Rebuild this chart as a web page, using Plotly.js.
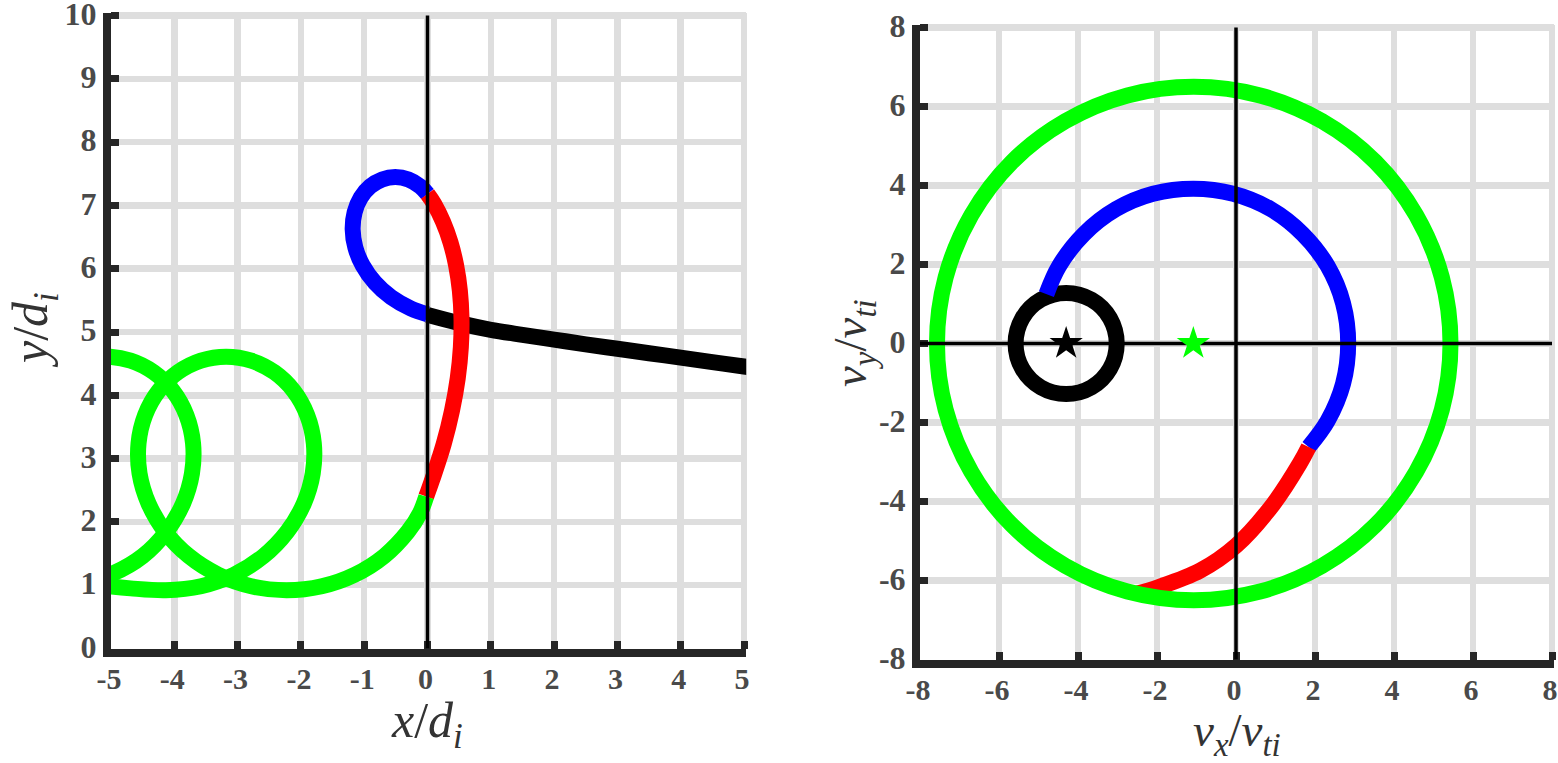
<!DOCTYPE html>
<html>
<head>
<meta charset="utf-8">
<script src="https://cdn.plot.ly/plotly-3.0.1.min.js"></script>
<style>html,body{margin:0;padding:0;background:#fff;}#chart{width:1558px;height:763px;}</style>
</head>
<body>
<div id="chart"></div>
<script>
// ---------- Left panel: position space (x/d_i, y/d_i) ----------
const posXTicks = [-5, -4, -3, -2, -1, 0, 1, 2, 3, 4, 5];
const posXTickLabels = ['-5', '-4', '-3', '-2', '-1', '0', '1', '2', '3', '4', '5'];
const posYTicks = [0, 1, 2, 3, 4, 5, 6, 7, 8, 9, 10];
const posYTickLabels = ['0', '1', '2', '3', '4', '5', '6', '7', '8', '9', '10'];

const posBlackX = [0, 0.5, 1, 1.5, 2, 2.5, 3, 3.5, 4, 4.5, 5, 5.3];
const posBlackY = [5.27, 5.14, 5.035, 4.955, 4.88, 4.805, 4.735, 4.665, 4.595, 4.525, 4.455, 4.415];

const posBlueX = [0.0, -0.263, -0.573, -0.830, -1.022, -1.140, -1.182, -1.151, -1.055, -0.905, -0.716, -0.509, -0.301, -0.113, 0.0];
const posBlueY = [5.28, 5.371, 5.548, 5.779, 6.047, 6.335, 6.623, 6.892, 7.122, 7.299, 7.410, 7.448, 7.410, 7.299, 7.18];

const posRedX = [0.0, 0.106, 0.246, 0.363, 0.452, 0.511, 0.537, 0.527, 0.478, 0.387, 0.255, 0.078, -0.02];
const posRedY = [7.18, 7.022, 6.739, 6.416, 6.053, 5.654, 5.222, 4.761, 4.271, 3.758, 3.226, 2.677, 2.40];

const posGreenX = [-0.02, -0.122, -0.311, -0.683, -1.145, -1.67, -2.227, -2.784, -3.308, -3.77, -4.143, -4.406, -4.549,
  -4.565, -4.461, -4.247, -3.944, -3.579, -3.181, -2.783, -2.417, -2.114, -1.901, -1.796, -1.813, -1.955,
  -2.219, -2.591, -3.053, -3.578, -4.135, -4.69, -5.0, -5.3, null,
  -5.49, -5.09, -4.69, -4.325, -4.022, -3.809, -3.704, -3.721, -3.863, -4.127, -4.50, -4.961, -5.486];
const posGreenY = [2.40, 2.134, 1.843, 1.46, 1.167, 0.983, 0.92, 0.983, 1.167, 1.46, 1.843, 2.288, 2.765,
  3.243, 3.688, 4.07, 4.363, 4.547, 4.61, 4.547, 4.363, 4.07, 3.688, 3.243, 2.765, 2.288,
  1.843, 1.46, 1.167, 0.983, 0.92, 0.95, 0.98, 1.02, null,
  4.547, 4.61, 4.547, 4.363, 4.07, 3.688, 3.243, 2.765, 2.288, 1.843, 1.46, 1.19, 1.03];

const posZeroX = [0, 0];
const posZeroY = [0, 10];

// ---------- Right panel: velocity space (v_x/v_ti, v_y/v_ti) ----------
const velTicks = [-8, -6, -4, -2, 0, 2, 4, 6, 8];
const velTickLabels = ['-8', '-6', '-4', '-2', '0', '2', '4', '6', '8'];

const velBlackX = [-5.58, -5.41, -4.94, -4.30, -3.66, -3.19, -3.02, -3.19, -3.66, -4.30, -4.94, -5.41, -5.58];
const velBlackY = [0, -0.64, -1.11, -1.28, -1.11, -0.64, 0, 0.64, 1.11, 1.28, 1.11, 0.64, 0];

const velBlueX = [1.84, 2.32, 2.71, 2.84, 2.71, 2.32, 1.69, 0.88, -0.07, -1.08, -2.10, -3.04, -3.85, -4.48, -4.80];
const velBlueY = [-2.62, -1.96, -1.02, 0, 1.02, 1.96, 2.77, 3.40, 3.79, 3.92, 3.79, 3.40, 2.77, 1.96, 1.25];

const velRedX = [1.84, 1.62, 0.94, 0, -0.91, -1.97, -2.50];
const velRedY = [-2.62, -3.03, -4.07, -5.12, -5.75, -6.17, -6.33];

const velGreenX = [-7.57, -7.35, -6.70, -5.67, -4.32, -2.75, -1.07, 0.61, 2.18, 3.53, 4.56, 5.21, 5.43,
  5.21, 4.56, 3.53, 2.18, 0.61, -1.07, -2.75, -4.32, -5.67, -6.70, -7.35, -7.57];
const velGreenY = [0, -1.68, -3.25, -4.60, -5.63, -6.28, -6.50, -6.28, -5.63, -4.60, -3.25, -1.68, 0,
  1.68, 3.25, 4.60, 5.63, 6.28, 6.50, 6.28, 5.63, 4.60, 3.25, 1.68, 0];

const velZeroVX = [0, 0];
const velZeroVY = [-8, 8];
const velZeroHX = [-8, 8];
const velZeroHY = [0, 0];

const starX = [-4.30, -1.08];
const starY = [0, 0];
const starColors = ['#000000', '#00ff00'];

// ---------- styling ----------
const W = 1558, H = 763;
const TRAJ_W = 16;
const GRID = '#dedede', SPINE = '#262626', TICKTXT = '#4a4a4a', TITLETXT = '#333333';

function curve(xs, ys, color, xa, ya) {
  return {type: 'scatter', mode: 'lines', x: xs, y: ys, xaxis: xa, yaxis: ya,
    line: {color: color, width: TRAJ_W, shape: 'spline', smoothing: 1},
    hoverinfo: 'skip', connectgaps: false};
}
function straight(xs, ys, xa, ya) {
  return {type: 'scatter', mode: 'lines', x: xs, y: ys, xaxis: xa, yaxis: ya,
    line: {color: '#000000', width: 3.5}, hoverinfo: 'skip'};
}

const traces = [
  curve(posBlackX, posBlackY, '#000000', 'x', 'y'),
  curve(posBlueX, posBlueY, '#0000ff', 'x', 'y'),
  curve(posRedX, posRedY, '#ff0000', 'x', 'y'),
  curve(posGreenX, posGreenY, '#00ff00', 'x', 'y'),
  straight(posZeroX, posZeroY, 'x', 'y'),

  curve(velBlackX, velBlackY, '#000000', 'x2', 'y2'),
  curve(velBlueX, velBlueY, '#0000ff', 'x2', 'y2'),
  curve(velRedX, velRedY, '#ff0000', 'x2', 'y2'),
  curve(velGreenX, velGreenY, '#00ff00', 'x2', 'y2'),
  straight(velZeroVX, velZeroVY, 'x2', 'y2'),
  straight(velZeroHX, velZeroHY, 'x2', 'y2'),
  {type: 'scatter', mode: 'markers', x: starX, y: starY, xaxis: 'x2', yaxis: 'y2',
    marker: {symbol: 'star', size: 25, color: starColors, line: {width: 0}}, hoverinfo: 'skip'}
];

function axisBase(ticks, labels, size, isX) {
  const a = {tickmode: 'array', tickvals: ticks, ticktext: labels,
    showgrid: true, gridcolor: GRID, gridwidth: 6.5, zeroline: false,
    showline: true, linecolor: SPINE, linewidth: 8,
    ticks: 'inside', ticklen: 8, tickwidth: 7, tickcolor: SPINE,
    tickfont: {family: 'Liberation Serif', size: size, color: TICKTXT, weight: 'bold'},
    ticklabeloverflow: 'allow', layer: 'below traces', fixedrange: true};
  if (isX) { a.ticklabelstandoff = -4; a.ticklabelshift = -2; }
  else { a.ticklabelshift = -2; }
  return a;
}

// pixel geometry: left 63.3 px/unit, right 39.5 px/unit
const L_X0 = 111, L_Y0 = 648.5, L_S = 63.3;
const R_X0 = 920, R_Y0 = 659.5, R_S = 39.5;
const L_EXT = 0.035, R_EXT = 0.055;

const layout = {
  width: W, height: H, margin: {l: 0, r: 0, t: 0, b: 0},
  paper_bgcolor: '#ffffff', plot_bgcolor: '#ffffff', showlegend: false, hovermode: false,
  xaxis: Object.assign(axisBase(posXTicks, posXTickLabels, 30, true), {
    anchor: 'y', range: [-5, 5 + L_EXT],
    domain: [L_X0 / W, (L_X0 + (10 + L_EXT) * L_S) / W]}),
  yaxis: Object.assign(axisBase(posYTicks, posYTickLabels, 32, false), {
    anchor: 'x', range: [0, 10 + L_EXT],
    domain: [1 - L_Y0 / H, 1 - (L_Y0 - (10 + L_EXT) * L_S) / H]}),
  xaxis2: Object.assign(axisBase(velTicks, velTickLabels, 30, true), {
    anchor: 'y2', range: [-8, 8 + R_EXT],
    domain: [R_X0 / W, Math.min(1, (R_X0 + (16 + R_EXT) * R_S) / W)]}),
  yaxis2: Object.assign(axisBase(velTicks, velTickLabels, 32, false), {
    anchor: 'x2', range: [-8, 8 + R_EXT],
    domain: [1 - R_Y0 / H, 1 - (R_Y0 - (16 + R_EXT) * R_S) / H]}),
  annotations: [
    {text: '<i>x</i>/<i>d</i><sub><i>i</i></sub>', x: 427 / W, y: 1 - 724 / H, font: {size: 50}},
    {text: '<i>y</i>/<i>d</i><sub><i>i</i></sub>', x: 34 / W, y: 1 - 330 / H, textangle: -90, font: {size: 50}},
    {text: '<i>v</i><sub><i>x</i></sub>/<i>v</i><sub><i>ti</i></sub>', x: 1237 / W, y: 1 - 733 / H, font: {size: 47}},
    {text: '<i>v</i><sub><i>y</i></sub>/<i>v</i><sub><i>ti</i></sub>', x: 853 / W, y: 1 - 343 / H, textangle: -90, font: {size: 47}}
  ].map(a => Object.assign({xref: 'paper', yref: 'paper', xanchor: 'center', yanchor: 'middle',
    showarrow: false}, a, {font: {family: 'Liberation Serif', size: a.font.size, color: TITLETXT}}))
};

Plotly.newPlot('chart', traces, layout, {staticPlot: true, displayModeBar: false});
</script>
</body>
</html>
